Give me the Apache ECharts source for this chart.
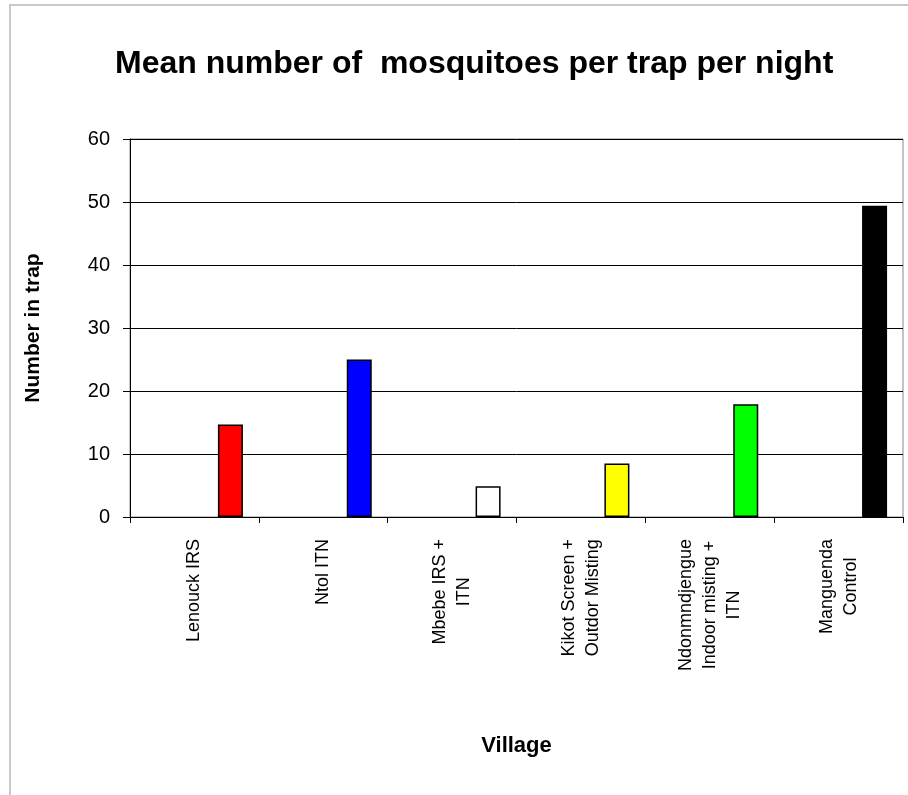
<!DOCTYPE html>
<html>
<head>
<meta charset="utf-8">
<script src="https://cdn.jsdelivr.net/npm/echarts@6/dist/echarts.min.js"></script>
<style>html,body{margin:0;padding:0;background:#fff;}#chart{width:908px;height:795px;}</style>
</head>
<body>
<div id="chart"></div>
<script>
var categories = ['Lenouck IRS', 'Ntol ITN', 'Mbebe IRS +\nITN', 'Kikot Screen +\nOutdor Misting', 'Ndonmndjengue\nIndoor misting +\nITN', 'Manguenda\nControl'];
var values = [14.7, 25.0, 4.9, 8.5, 17.9, 49.4];
var barColors = ['#ff0000', '#0000ff', '#ffffff', '#ffff00', '#00ff00', '#000000'];
var yTicks = [0, 10, 20, 30, 40, 50, 60];

var FONT = 'Liberation Sans, Arial, sans-serif';
var chart = echarts.init(document.getElementById('chart'));
chart.setOption({
  backgroundColor: '#ffffff',
  animation: false,
  graphic: [{
    type: 'rect', shape: {x: 10, y: 5, width: 1200, height: 1200},
    style: {fill: 'none', stroke: '#c8c8c8', lineWidth: 2}, silent: true
  }],
  title: {
    text: 'Mean number of  mosquitoes per trap per night',
    left: 110, top: 43,
    textStyle: {fontFamily: FONT, fontSize: 32, fontWeight: 'bold', color: '#000'}
  },
  grid: {left: 130, right: 5, top: 139, bottom: 278, show: true, borderColor: '#888', borderWidth: 1},
  xAxis: {
    type: 'category',
    data: categories,
    name: 'Village', nameLocation: 'middle', nameGap: 218,
    nameTextStyle: {fontFamily: FONT, fontSize: 22, fontWeight: 'bold', color: '#000'},
    axisLine: {lineStyle: {color: '#000', width: 1}},
    axisTick: {show: true, alignWithLabel: false, length: 6, lineStyle: {color: '#000'}},
    axisLabel: {
      interval: 0, rotate: 90, margin: 22,
      fontFamily: FONT, fontSize: 18, color: '#000', lineHeight: 24,
      formatter: function (v) { return v.split('\n').map(function (s) { return '{c|' + s + '}'; }).join('\n'); },
      rich: {c: {align: 'center', fontFamily: FONT, fontSize: 18, lineHeight: 24, color: '#000'}}
    },
    splitLine: {show: false}
  },
  yAxis: {
    type: 'value', min: yTicks[0], max: yTicks[yTicks.length - 1], interval: 10,
    name: 'Number in trap', nameLocation: 'middle', nameGap: 86,
    nameTextStyle: {fontFamily: FONT, fontSize: 21, fontWeight: 'bold', color: '#000'},
    axisLine: {show: true, lineStyle: {color: '#000', width: 1}},
    axisTick: {show: true, length: 7, lineStyle: {color: '#000'}},
    axisLabel: {margin: 20, fontFamily: FONT, fontSize: 20, color: '#000'},
    splitLine: {show: true, lineStyle: {color: '#000', width: 1}}
  },
  series: [
    {type: 'bar', data: values.map(function () { return '-'; }), barWidth: 25, barGap: '188%'},
    {type: 'bar', barWidth: 25,
     data: values.map(function (v, i) { return {value: v, itemStyle: {color: barColors[i]}}; }),
     itemStyle: {borderColor: '#000', borderWidth: 1.5}}
  ]
});
</script>
</body>
</html>
